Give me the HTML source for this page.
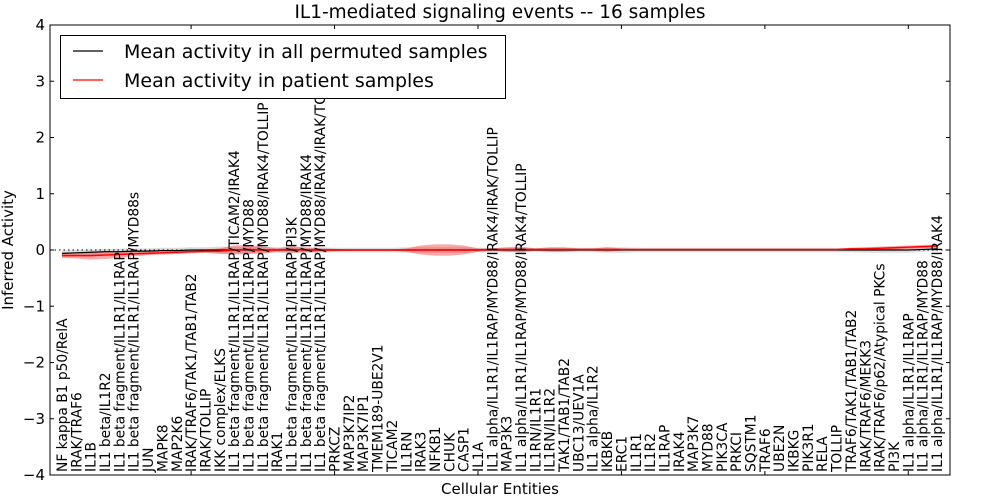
<!DOCTYPE html>
<html><head><meta charset="utf-8"><style>
body{margin:0;background:#fff;}
svg{display:block;font-family:"DejaVu Sans","Liberation Sans",sans-serif;}
</style></head><body>
<svg id="chart" width="1000" height="500">
<defs><clipPath id="clip"><rect x="50" y="25" width="900" height="450"/></clipPath></defs>
<text x="500" y="18" text-anchor="middle" font-size="18.5">IL1-mediated signaling events -- 16 samples</text>
<text x="500" y="494" text-anchor="middle" font-size="15">Cellular Entities</text>
<text transform="translate(13,250) rotate(-90)" text-anchor="middle" font-size="15">Inferred Activity</text>
<g id="yaxis"></g>
<g id="plot" clip-path="url(#clip)"></g>
<g id="xticks"></g>
<rect x="50" y="25" width="900" height="450" fill="none" stroke="#000" stroke-width="1"/>
<g>
<rect x="60.5" y="35.5" width="445" height="63" fill="#fff" stroke="#000"/>
<line x1="73" y1="51" x2="103" y2="51" stroke="#000" stroke-width="1.2"/>
<text x="124" y="58" font-size="19">Mean activity in all permuted samples</text>
<line x1="73" y1="80" x2="103" y2="80" stroke="#f00" stroke-width="1.2"/>
<text x="124" y="87" font-size="19">Mean activity in patient samples</text>
</g>
</svg>
<script>
const categories=["NF kappa B1 p50/RelA","IRAK/TRAF6","IL1B","IL1 beta/IL1R2","IL1 beta fragment/IL1R1/IL1RAP","IL1 beta fragment/IL1R1/IL1RAP/MYD88s","JUN","MAPK8","MAP2K6","IRAK/TRAF6/TAK1/TAB1/TAB2","IRAK/TOLLIP","IKK complex/ELKS","IL1 beta fragment/IL1R1/IL1RAP/TICAM2/IRAK4","IL1 beta fragment/IL1R1/IL1RAP/MYD88","IL1 beta fragment/IL1R1/IL1RAP/MYD88/IRAK4/TOLLIP","IRAK1","IL1 beta fragment/IL1R1/IL1RAP/PI3K","IL1 beta fragment/IL1R1/IL1RAP/MYD88/IRAK4","IL1 beta fragment/IL1R1/IL1RAP/MYD88/IRAK4/IRAK/TOLLIP","PRKCZ","MAP3K7IP2","MAP3K7IP1","TMEM189-UBE2V1","TICAM2","IL1RN","IRAK3","NFKB1","CHUK","CASP1","IL1A","IL1 alpha/IL1R1/IL1RAP/MYD88/IRAK4/IRAK/TOLLIP","MAP3K3","IL1 alpha/IL1R1/IL1RAP/MYD88/IRAK4/TOLLIP","IL1RN/IL1R1","IL1RN/IL1R2","TAK1/TAB1/TAB2","UBC13/UEV1A","IL1 alpha/IL1R2","IKBKB","ERC1","IL1R1","IL1R2","IL1RAP","IRAK4","MAP3K7","MYD88","PIK3CA","PRKCI","SQSTM1","TRAF6","UBE2N","IKBKG","PIK3R1","RELA","TOLLIP","TRAF6/TAK1/TAB1/TAB2","IRAK/TRAF6/MEKK3","IRAK/TRAF6/p62/Atypical PKCs","PI3K","IL1 alpha/IL1R1/IL1RAP","IL1 alpha/IL1R1/IL1RAP/MYD88","IL1 alpha/IL1R1/IL1RAP/MYD88/IRAK4"];
const patientMean=[-0.10,-0.10,-0.10,-0.09,-0.08,-0.07,-0.06,-0.05,-0.04,-0.03,-0.02,-0.02,0.0,0.01,0.0,0.0,0.01,0.0,0.0,0.0,0.0,0.0,0.0,0.0,0.0,0.0,0.0,0.0,0.0,0.0,0.01,0.01,0.01,0.01,0.01,0.01,0.01,0.01,0.01,0.01,0.01,0.01,0.01,0.01,0.01,0.01,0.01,0.01,0.01,0.01,0.01,0.01,0.01,0.01,0.01,0.02,0.02,0.03,0.04,0.05,0.06,0.07];
const patientSpread=[0.04,0.05,0.07,0.07,0.06,0.04,0.03,0.03,0.03,0.03,0.03,0.05,0.08,0.08,0.06,0.03,0.06,0.04,0.03,0.02,0.01,0.01,0.01,0.01,0.03,0.08,0.1,0.1,0.08,0.03,0.02,0.04,0.05,0.02,0.04,0.04,0.02,0.02,0.04,0.02,0.01,0.01,0.01,0.01,0.01,0.01,0.01,0.01,0.01,0.01,0.01,0.01,0.01,0.01,0.01,0.02,0.03,0.03,0.03,0.03,0.03,0.03];
const permutedMean=[-0.06,-0.05,-0.04,-0.03,-0.03,-0.02,-0.02,-0.01,-0.01,0,0,0,0,0,0,0,0,0,0,0,0,0,0,0,0,0,0,0,0,0,0,0,0,0,0,0,0,0,0,0,0,0,0,0,0,0,0,0,0,0,0,0,0,0,0,0,0,0,0,0,0.01,0.02];
const permutedSpread=[0.05,0.05,0.05,0.05,0.05,0.05,0.05,0.05,0.05,0.05,0.05,0.06,0.06,0.06,0.06,0.05,0.05,0.05,0.05,0.04,0.04,0.04,0.04,0.04,0.05,0.05,0.05,0.05,0.05,0.04,0.04,0.04,0.04,0.04,0.04,0.04,0.04,0.04,0.05,0.05,0.04,0.04,0.04,0.04,0.04,0.04,0.04,0.04,0.04,0.04,0.04,0.04,0.04,0.04,0.04,0.04,0.05,0.05,0.05,0.05,0.04,0.04];
const yTicks=[-4,-3,-2,-1,0,1,2,3,4];
const xTickIdx=[9,19,29,39,49,59];

const NS="http://www.w3.org/2000/svg";
const xs=i=>62+i*(875/61);
const ys=v=>250-v*56.25;
function mk(tag,attrs,parent){const e=document.createElementNS(NS,tag);for(const k in attrs)e.setAttribute(k,attrs[k]);parent.appendChild(e);return e;}
const plot=document.getElementById('plot'),yax=document.getElementById('yaxis'),xax=document.getElementById('xticks');
function band(mean,spr,fill,op,name){
  let up=mean.map((m,i)=>xs(i)+','+ys(m+spr[i]));
  let dn=mean.map((m,i)=>xs(i)+','+ys(m-spr[i])).reverse();
  const p=mk('polygon',{points:up.concat(dn).join(' '),fill:fill,'fill-opacity':op,stroke:'none'},plot);
  
  
}
function line(mean,col,w,name){
  const p=mk('polyline',{points:mean.map((m,i)=>xs(i)+','+ys(m)).join(' '),fill:'none',stroke:col,'stroke-width':w},plot);
  
  
}
band(permutedMean,permutedSpread,'#bbbbbb',0.5,'permuted-band');
band(patientMean,patientSpread,'#f00',0.35,'patient-band');
const z=mk('line',{x1:50,x2:950,y1:ys(0),y2:ys(0),stroke:'#000','stroke-dasharray':'1.5,3','stroke-width':1},plot);


line(permutedMean,'#000',1.2,'permuted-mean-line');
line(patientMean,'#f00',1.5,'patient-mean-line');
categories.forEach((c,i)=>{
  const t=mk('text',{transform:`translate(${xs(i)+5},472) rotate(-90)`,'font-size':13.8},plot);
  t.textContent=c;
  
  
});
yTicks.forEach(v=>{
  const t=mk('text',{x:45,y:ys(v)+5,'text-anchor':'end','font-size':15},yax);
  t.textContent=v<0?'\u2212'+Math.abs(v):String(v);
  
  
  const l=mk('path',{d:`M50,${ys(v)}h4M950,${ys(v)}h-4`,stroke:'#000'},yax);
  
  
});
xTickIdx.forEach(i=>{
  const l=mk('path',{d:`M${xs(i)},475v-4M${xs(i)},25v4`,stroke:'#000'},xax);
  
  
});
</script>
</body></html>
